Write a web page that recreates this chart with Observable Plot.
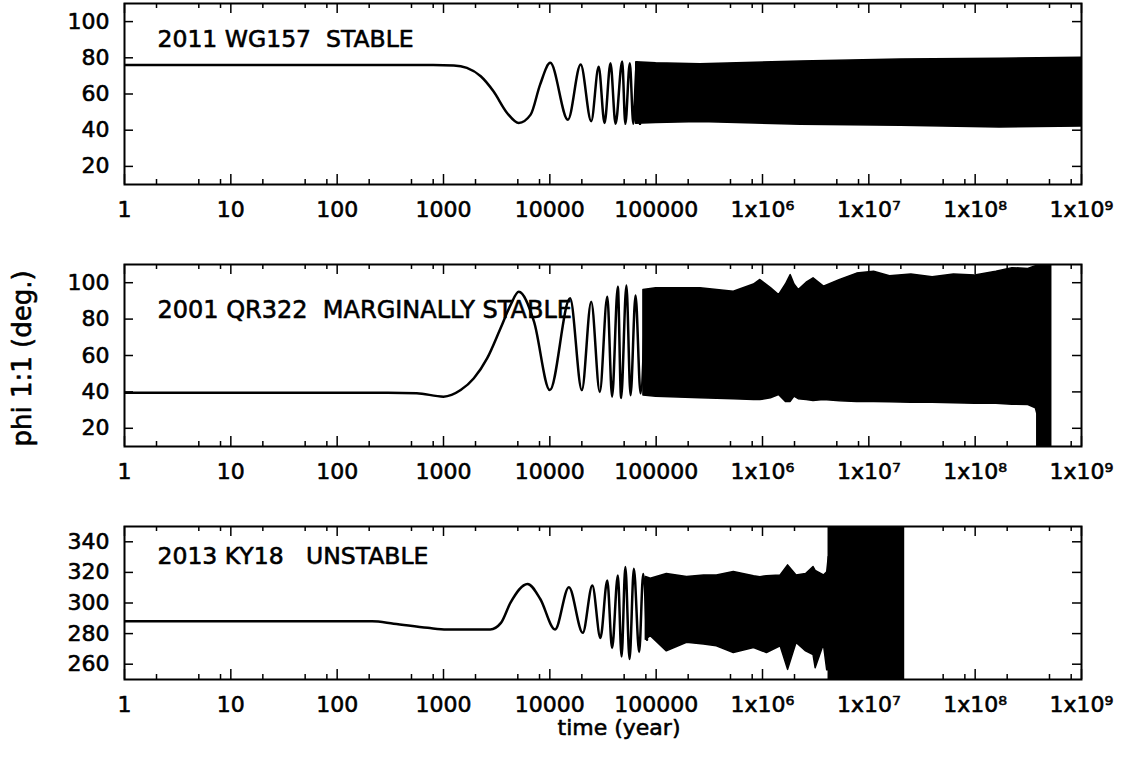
<!DOCTYPE html>
<html>
<head>
<meta charset="utf-8">
<script src="https://cdn.jsdelivr.net/npm/d3@7"></script>
<script src="https://cdn.jsdelivr.net/npm/@observablehq/plot@0.6"></script>
<style>
  html, body { margin: 0; padding: 0; background: white; }
  #chart { width: 1129px; height: 764px; }
  #chart svg { display: block; }
</style>
</head>
<body>
<div id="chart"></div>
<script>
// ---------- axis ticks ----------
const xTickValues = [1, 10, 100, 1e3, 1e4, 1e5, 1e6, 1e7, 1e8, 1e9];
const xTickLabels = ["1", "10", "100", "1000", "10000", "100000", "1x10⁶", "1x10⁷", "1x10⁸", "1x10⁹"];
const xMinorMultipliers = [2, 5, 8];
const yTicksDeg = [20, 40, 60, 80, 100];
const yTicksKY = [260, 280, 300, 320, 340];

// ---------- titles ----------
const panelLabels = ["2011 WG157  STABLE", "2001 QR322  MARGINALLY STABLE", "2013 KY18   UNSTABLE"];
const yLabel = "phi 1:1 (deg.)";
const xLabel = "time (year)";

// ---------- 2011 WG157 (resolved curve) ----------
const wgLineT = [1, 100, 800, 1250, 1660, 2240, 2950, 3980, 5100, 6600, 8100, 10100, 14800, 19500, 24500, 28800, 32700, 37200, 41500, 47900, 51300, 56500, 61000, 66000, 70500];
const wgLineV = [76, 76, 76, 75.8, 74.4, 69.8, 61.5, 49.4, 44, 48.6, 65.2, 77.2, 45.8, 76.3, 45, 75, 44, 77, 43.5, 78, 43.5, 77, 43.5, 77.5, 43.5];
// dense libration band
const wgBandT = [65000, 1e5, 2.6e5, 2.3e6, 2e7, 1.7e8, 1e9];
const wgBandLo = [43.5, 44, 44.5, 43, 42.5, 41.5, 42];
const wgBandHi = [77.5, 77, 76.5, 78, 79, 79.5, 80];

// ---------- 2001 QR322 ----------
const qrLineT = [1, 300, 560, 1000, 1450, 1930, 2570, 3440, 4270, 5100, 7100, 10000, 15500, 20000, 24500, 29500, 34700, 38500, 43600, 46800, 52500, 57400, 64000, 71300, 79400];
const qrLineV = [39.6, 39.6, 39.3, 37.4, 41, 47.5, 58.4, 75, 87.7, 95, 78.6, 41, 91.4, 41, 89.6, 40, 92.3, 37.4, 97.8, 36.6, 98.5, 38.2, 93, 39.2, 89.6];
const qrBandT = [75900, 1e5, 2.61e5, 5.37e5, 8.3e5, 9.55e5, 1.2e6, 1.43e6, 1.66e6, 1.84e6, 2.0e6, 2.19e6, 2.6e6, 3.02e6, 3.78e6, 5.37e6, 7.76e6, 1.12e7, 1.58e7, 2.51e7, 3.98e7, 6.31e7, 1e8, 1.58e8, 2.24e8, 3.16e8, 3.72e8, 3.84e8];
const qrBandLo = [38, 37.4, 36.5, 36, 35.5, 35.5, 36.5, 38.3, 34.5, 34.5, 37.4, 36, 35.5, 35, 35.5, 34.8, 34.5, 34.5, 34.3, 34, 34, 33.8, 33.5, 33.5, 33, 32.8, 31, 28];
const qrBandHi = [96, 97, 96.9, 95, 99, 101.5, 97, 93.2, 99, 104.2, 99, 96, 100, 102.4, 97.8, 101.5, 105, 106, 103.5, 104.5, 103, 104.5, 104, 106, 108, 107.5, 109, 110];
// circulation (angle sweeps 0-360)
const qrWrapT = [3.84e8, 5.19e8];
const qrWrapLo = [0, 0];
const qrWrapHi = [360, 360];

// ---------- 2013 KY18 ----------
const kyLineT = [1, 213, 340, 710, 1070, 2750, 3470, 4270, 6170, 8130, 11200, 15100, 20400, 25100, 29900, 34700, 38500, 43600, 47300, 51300, 56200, 61700, 69200, 75500, 82000];
const kyLineV = [288, 288, 286.5, 283.8, 282.7, 282.7, 287, 300.3, 312.5, 302.6, 282.7, 310.3, 280.5, 311.4, 277.2, 314.7, 270.6, 318, 265, 323.5, 263.4, 322.4, 268, 319, 276];
const kyBandT = [80000, 89000, 1.26e5, 1.95e5, 2.82e5, 3.72e5, 5.37e5, 8.32e5, 9.55e5, 1.1e6, 1.48e6, 1.74e6, 2.09e6, 2.57e6, 3.02e6, 3.16e6, 3.78e6, 4.06e6, 4.2e6];
const kyBandLo = [276, 278.3, 268.4, 274, 272.8, 271.7, 267.3, 270.6, 269, 267.3, 271.7, 256.3, 273.9, 268.4, 266, 257.4, 272.8, 256, 256];
const kyBandHi = [317, 315.8, 319, 317, 318, 318, 320.2, 317.5, 316.9, 317.5, 318, 324.6, 318, 319, 323.5, 321, 318, 320, 330];
const kyWrapT = [4.2e6, 2.14e7];
const kyWrapLo = [0, 0];
const kyWrapHi = [360, 360];

// ---------- helpers ----------
const zipLine = (T, V) => T.map((t, i) => ({t, v: V[i]}));
const zipBand = (T, L, H) => T.map((t, i) => ({t, lo: L[i], hi: H[i]}));
const xMinor = xTickValues.slice(0, -1).flatMap(d => xMinorMultipliers.map(m => d * m));

const W = 1129, ML = 124, MR = 48, FW = W - ML - MR;
const FONT = "DejaVu Sans";
const TICK_FONT = 22;
const INK = {fill: "black", stroke: "black", strokeWidth: 0.6};

function panel(o) {
  const FH = o.height - o.marginTop - o.marginBottom;
  const marks = [];
  for (const b of o.bands) {
    marks.push(Plot.areaY(b, {x: "t", y1: "lo", y2: "hi", fill: "black", stroke: "black", strokeWidth: 1.5, clip: true}));
  }
  marks.push(
    Plot.line(o.line, {x: "t", y: "v", stroke: "black", strokeWidth: 2.5, curve: "monotone-x", clip: true}),
    Plot.tickX(xTickValues, {x: d => d, stroke: "black", strokeWidth: 1.5, insetTop: FH - 10}),
    Plot.tickX(xTickValues, {x: d => d, stroke: "black", strokeWidth: 1.5, insetBottom: FH - 10}),
    Plot.tickX(xMinor, {x: d => d, stroke: "black", strokeWidth: 1.5, insetTop: FH - 5}),
    Plot.tickX(xMinor, {x: d => d, stroke: "black", strokeWidth: 1.5, insetBottom: FH - 5}),
    Plot.tickY(o.yTicks, {y: d => d, stroke: "black", strokeWidth: 1.5, insetRight: FW - 9}),
    Plot.tickY(o.yTicks, {y: d => d, stroke: "black", strokeWidth: 1.5, insetLeft: FW - 9}),
    // tick labels
    Plot.text(xTickValues, {x: d => d, text: (d, i) => xTickLabels[i], frameAnchor: "bottom", dy: 17, lineAnchor: "top", textAnchor: "middle", fontSize: TICK_FONT, ...INK}),
    Plot.text(o.yTicks, {y: d => d, text: d => String(d), frameAnchor: "left", dx: -15, textAnchor: "end", lineAnchor: "middle", fontSize: TICK_FONT, ...INK}),
    Plot.frame({stroke: "black", strokeWidth: 2}),
    Plot.text([o.label], {text: d => d, frameAnchor: "top-left", dx: 33, dy: o.labelDy, fontSize: o.labelSize || 23.5, textAnchor: "start", lineAnchor: "top", ...INK}),
    ...(o.extra || [])
  );
  return Plot.plot({
    width: W, height: o.height,
    marginLeft: ML, marginRight: MR, marginTop: o.marginTop, marginBottom: o.marginBottom,
    style: {fontFamily: FONT, fontSize: "20px", color: "black", background: "transparent", whiteSpace: "pre", overflow: "visible"},
    x: {type: "log", domain: [1, 1e9], label: null, axis: null},
    y: {domain: o.yDomain, label: null, axis: null},
    marks
  });
}

const chart = document.getElementById("chart");

chart.append(panel({
  height: 240, marginTop: 3, marginBottom: 56,
  yDomain: [10, 110], yTicks: yTicksDeg,
  line: zipLine(wgLineT, wgLineV),
  bands: [zipBand(wgBandT, wgBandLo, wgBandHi)],
  label: panelLabels[0], labelDy: 27
}));

chart.append(panel({
  height: 260, marginTop: 24, marginBottom: 54,
  yDomain: [10, 110], yTicks: yTicksDeg,
  line: zipLine(qrLineT, qrLineV),
  bands: [zipBand(qrBandT, qrBandLo, qrBandHi), zipBand(qrWrapT, qrWrapLo, qrWrapHi)],
  label: panelLabels[1], labelDy: 36, labelSize: 24,
  extra: [Plot.text([yLabel], {text: d => d, frameAnchor: "left", dx: -102, dy: 3, rotate: -90, textAnchor: "middle", lineAnchor: "middle", fontSize: 26, ...INK})]
}));

chart.append(panel({
  height: 264, marginTop: 26, marginBottom: 85,
  yDomain: [250, 350], yTicks: yTicksKY,
  line: zipLine(kyLineT, kyLineV),
  bands: [zipBand(kyBandT, kyBandLo, kyBandHi), zipBand(kyWrapT, kyWrapLo, kyWrapHi)],
  label: panelLabels[2], labelDy: 21,
  extra: [Plot.text([xLabel], {text: d => d, frameAnchor: "bottom", dx: 16, dy: 40, fontSize: 22, textAnchor: "middle", lineAnchor: "top", ...INK})]
}));
</script>
</body>
</html>
